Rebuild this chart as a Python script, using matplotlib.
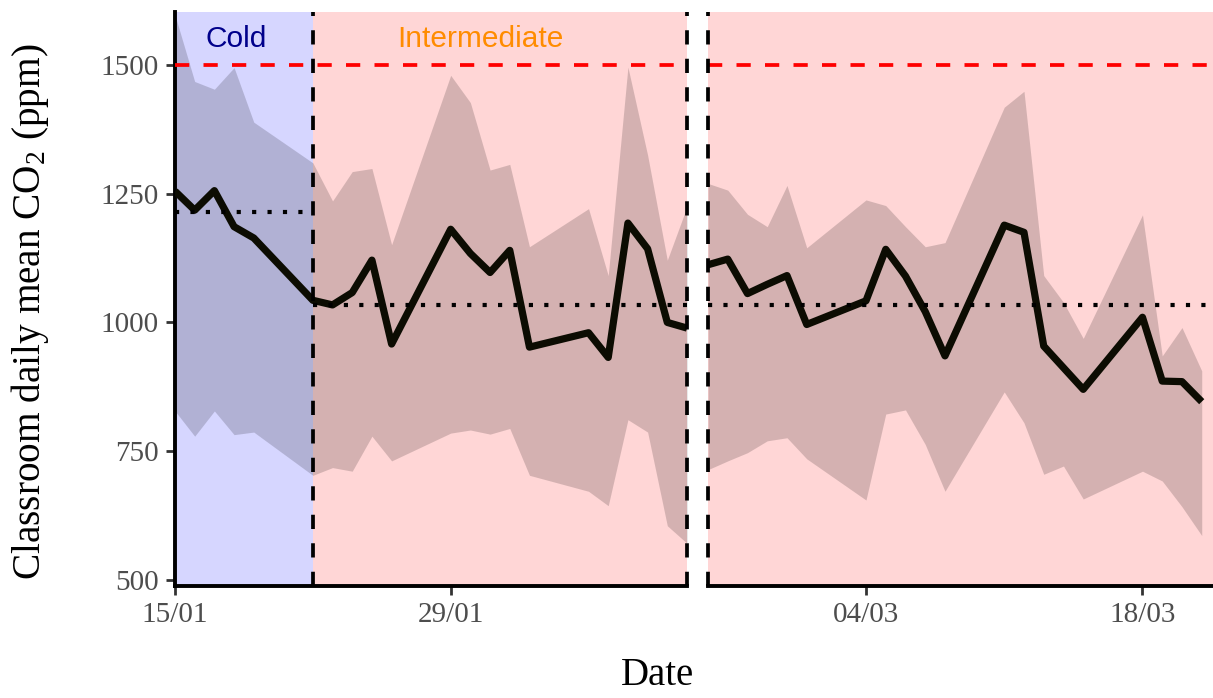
import numpy as np
import pandas as pd
import matplotlib
matplotlib.use('Agg')
import matplotlib.pyplot as plt
import matplotlib.dates as mdates

plt.rcParams['font.family'] = ['Liberation Serif', 'DejaVu Serif']
plt.rcParams['mathtext.fontset'] = 'custom'
plt.rcParams['mathtext.rm'] = 'Liberation Serif'
plt.rcParams['mathtext.it'] = 'Liberation Serif:italic'

# daily means and band (ppm), first period
left_dates = ['2024-01-15', '2024-01-16', '2024-01-17', '2024-01-18', '2024-01-19',
              '2024-01-22', '2024-01-23', '2024-01-24', '2024-01-25', '2024-01-26',
              '2024-01-29', '2024-01-30', '2024-01-31', '2024-02-01', '2024-02-02',
              '2024-02-05', '2024-02-06', '2024-02-07', '2024-02-08', '2024-02-09',
              '2024-02-10']
left_mean = [1255, 1218, 1256, 1186, 1164, 1043, 1034, 1058, 1121, 958, 1181,
             1134, 1097, 1140, 952, 980, 932, 1193, 1143, 1000, 989]
left_upper = [1597, 1468, 1453, 1495, 1389, 1310, 1236, 1293, 1299, 1151, 1480,
              1427, 1296, 1307, 1147, 1221, 1091, 1496, 1325, 1121, 1225]
left_lower = [828, 779, 828, 782, 787, 703, 718, 711, 779, 731, 785, 791, 783,
              794, 703, 672, 644, 811, 787, 605, 571]

# second period
right_dates = ['2024-02-25', '2024-02-26', '2024-02-27', '2024-02-28', '2024-02-29',
               '2024-03-01', '2024-03-04', '2024-03-05', '2024-03-06', '2024-03-07',
               '2024-03-08', '2024-03-11', '2024-03-12', '2024-03-13', '2024-03-14',
               '2024-03-15', '2024-03-18', '2024-03-19', '2024-03-20', '2024-03-21']
right_mean = [1112, 1123, 1056, 1074, 1091, 996, 1042, 1142, 1090, 1021, 935,
              1189, 1175, 954, 912, 870, 1010, 886, 885, 846]
right_upper = [1270, 1257, 1210, 1186, 1266, 1145, 1238, 1227, 1186, 1147, 1155,
               1418, 1449, 1091, 1039, 969, 1209, 935, 990, 906]
right_lower = [714, 731, 747, 770, 776, 735, 655, 822, 830, 763, 672, 865, 805,
               705, 721, 657, 711, 692, 642, 586]

# seasons
season_names = ['Cold', 'Intermediate']
season_start = ['2024-01-15', '2024-01-22']
season_means = [1215, 1034]
threshold = 1500
period_breaks = ['2024-01-22', '2024-02-10', '2024-02-25']

left_ticks = ['2024-01-15', '2024-01-29']
right_ticks = ['2024-03-04', '2024-03-18']

ld = pd.to_datetime(left_dates)
rd = pd.to_datetime(right_dates)
ss = pd.to_datetime(season_start)

fig = plt.figure(figsize=(12.13, 6.98), dpi=100)
ax1 = fig.add_axes([175 / 1213, 1 - 586 / 698, 512 / 1213, 574 / 698])
ax2 = fig.add_axes([708 / 1213, 1 - 586 / 698, 505 / 1213, 574 / 698])

left_lim = (pd.Timestamp('2024-01-15'), pd.Timestamp('2024-02-10'))
right_lim = (pd.Timestamp('2024-02-25'), pd.Timestamp('2024-03-21') + pd.Timedelta(hours=13.7))

blue_bg = '#D6D6FF'
pink_bg = '#FFD6D6'
band = (0, 0, 0, 0.17)
line_col = '#0c0c02'

for ax, d, m, up, lo, lim in [(ax1, ld, left_mean, left_upper, left_lower, left_lim),
                              (ax2, rd, right_mean, right_upper, right_lower, right_lim)]:
    ax.set_xlim(lim)
    ax.set_ylim(488, 1603)
    # season backgrounds
    ax.axvspan(lim[0] - pd.Timedelta(days=40), ss[1], color=blue_bg, lw=0, zorder=0)
    ax.axvspan(ss[1], lim[1] + pd.Timedelta(days=40), color=pink_bg, lw=0, zorder=0)
    ax.fill_between(d, lo, up, color=band, lw=0, zorder=1)
    ax.axhline(threshold, color='red', lw=2.7, ls=(0, (3.8, 3.8)), zorder=3)
    ax.plot(d, m, color=line_col, lw=5.2, solid_joinstyle='round', solid_capstyle='butt', zorder=4)
    for sp in ['top', 'right']:
        ax.spines[sp].set_visible(False)
    ax.spines['bottom'].set_linewidth(2.8)
    ax.spines['bottom'].set_color('black')
    ax.tick_params(axis='x', length=6.5, width=2, color='#333333', labelsize=21,
                   labelcolor='#4D4D4D', pad=5)
    ax.xaxis.set_major_formatter(mdates.DateFormatter('%d/%m'))
    for b in pd.to_datetime(period_breaks):
        if lim[0] <= b <= lim[1]:
            ax.axvline(b, color='black', lw=2.7, ls=(0, (3.8, 3.8)), zorder=5, clip_on=False)

# season mean lines
dot = dict(color='black', lw=3, ls=(0, (1, 2.7)), zorder=5)
ax1.plot([ss[0], ss[1]], [season_means[0]] * 2, **dot)
ax1.plot([ss[1], left_lim[1]], [season_means[1]] * 2, **dot)
ax2.plot([right_lim[0], right_lim[1]], [season_means[1]] * 2, **dot)

ax1.set_xticks(pd.to_datetime(left_ticks))
ax2.set_xticks(pd.to_datetime(right_ticks))

ax1.set_yticks([500, 750, 1000, 1250, 1500])
ax1.spines['left'].set_linewidth(2.8)
ax1.tick_params(axis='y', length=6.5, width=2, color='#333333', labelsize=21,
                labelcolor='#4D4D4D', pad=5)
ax2.spines['left'].set_visible(False)
ax2.set_yticks([])

ax1.text(pd.Timestamp('2024-01-18 02:00'), 1550, season_names[0], color='#00008B',
         fontsize=21.5, family=['Liberation Sans'], ha='center', va='center', zorder=6)
ax1.text(pd.Timestamp('2024-01-30 12:00'), 1550, season_names[1], color='#FF8C00',
         fontsize=21.5, family=['Liberation Sans'], ha='center', va='center', zorder=6)

fig.text(30 / 1213, 1 - 312 / 698, 'Classroom daily mean CO$_2$ (ppm)', rotation=90,
         fontsize=28.3, ha='center', va='center')
fig.text(658 / 1213, 4 / 698, 'Date', fontsize=28, ha='center', va='bottom')

fig.savefig('out.png', dpi=100)
